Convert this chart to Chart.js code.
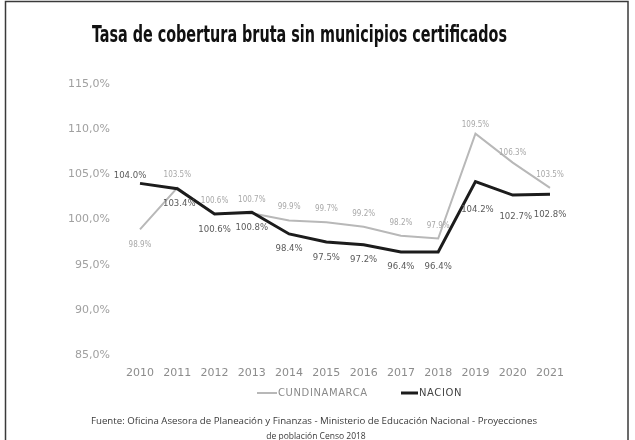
<!DOCTYPE html>
<html>
<head>
<meta charset="utf-8">
<script src="https://cdn.jsdelivr.net/npm/chart.js@4.4.1/dist/chart.umd.min.js"></script>
<style>
  html, body { margin: 0; padding: 0; background: #ffffff; }
  #wrap { width: 635px; height: 440px; position: relative; }
</style>
</head>
<body>
<div id="wrap"><canvas id="c" width="635" height="440"></canvas></div>
<script>
const TITLE = 'Tasa de cobertura bruta sin municipios certificados';
const FOOTER = ['Fuente: Oficina Asesora de Planeación y Finanzas - Ministerio de Educación Nacional - Proyecciones',
                'de población Censo 2018'];
const years = ['2010','2011','2012','2013','2014','2015','2016','2017','2018','2019','2020','2021'];
const cundinamarca = [98.9, 103.5, 100.6, 100.7, 99.9, 99.7, 99.2, 98.2, 97.9, 109.5, 106.3, 103.5];
const nacion = [104.0, 103.4, 100.6, 100.8, 98.4, 97.5, 97.2, 96.4, 96.4, 104.2, 102.7, 102.8];
const seriesNames = ['CUNDINAMARCA', 'NACION'];
const yMin = 85, yMax = 115, yStep = 5;

const GRAY = '#b8b8b8';
const BLACK = '#1c1c1c';

const fmtLabel = v => v.toFixed(1) + '%';
const fmtTick = v => v.toFixed(1).replace('.', ',') + '%';

const decor = {
  id: 'decor',
  afterDraw(chart) {
    const ctx = chart.ctx;
    // frame
    ctx.save();
    ctx.strokeStyle = '#3a3a3a';
    ctx.lineWidth = 1.5;
    ctx.strokeRect(5.5, 1.5, 622.5, 446);
    ctx.restore();

    // title
    ctx.save();
    ctx.font = 'bold 23px "Liberation Sans Narrow", "DejaVu Sans Condensed", sans-serif';
    ctx.fillStyle = '#111';
    ctx.textBaseline = 'alphabetic';
    const tw = ctx.measureText(TITLE).width;
    ctx.translate(92, 42);
    ctx.scale(415 / tw, 1);
    ctx.fillText(TITLE, 0, 0);
    ctx.restore();

    // data labels
    const metas = [chart.getDatasetMeta(0), chart.getDatasetMeta(1)];
    ctx.save();
    ctx.textAlign = 'center';
    ctx.textBaseline = 'middle';
    // Cundinamarca labels (above)
    ctx.font = '8px "Liberation Sans Narrow", "DejaVu Sans Condensed", sans-serif';
    ctx.fillStyle = '#a8a8a8';
    metas[0].data.forEach((pt, i) => {
      let dx = 0, dy = -13;
      if (i === 0) { dy = 15; }
      if (i === 9) { dy = -9; dx = 0; }
      if (i === 10) { dy = -10; }
      ctx.fillText(fmtLabel(cundinamarca[i]), pt.x + dx, pt.y + dy);
    });
    // Nacion labels (below)
    ctx.font = '9.5px "Liberation Sans Narrow", "DejaVu Sans Condensed", sans-serif';
    ctx.fillStyle = '#5a5a5a';
    metas[1].data.forEach((pt, i) => {
      let dx = 0, dy = 15;
      if (i === 0) { dx = -10; dy = -8; }
      if (i === 1) { dx = 2; }
      if (i === 9) { dx = 2; dy = 28; }
      if (i === 10) { dx = 3; dy = 21; }
      if (i === 11) { dy = 20; }
      ctx.fillText(fmtLabel(nacion[i]), pt.x + dx, pt.y + dy);
    });
    ctx.restore();

    // legend
    ctx.save();
    const ly = 393;
    ctx.lineCap = 'butt';
    ctx.strokeStyle = chart.data.datasets[0].borderColor;
    ctx.lineWidth = 2;
    ctx.beginPath(); ctx.moveTo(257, ly); ctx.lineTo(277, ly); ctx.stroke();
    ctx.strokeStyle = chart.data.datasets[1].borderColor;
    ctx.lineWidth = 3;
    ctx.beginPath(); ctx.moveTo(401, ly); ctx.lineTo(418, ly); ctx.stroke();
    ctx.font = '10px "DejaVu Sans", sans-serif';
    ctx.textBaseline = 'middle';
    ctx.textAlign = 'left';
    try { ctx.letterSpacing = '0.6px'; } catch (e) {}
    ctx.fillStyle = '#8a8a8a';
    ctx.fillText(chart.data.datasets[0].label, 278, ly + 0.5);
    ctx.fillStyle = '#444';
    ctx.fillText(chart.data.datasets[1].label, 419, ly + 0.5);
    ctx.restore();

    // footer
    ctx.save();
    ctx.font = '8.5px "Open Sans", sans-serif';
    ctx.fillStyle = '#3a3a3a';
    ctx.textBaseline = 'middle';
    ctx.textAlign = 'left';
    const fw = ctx.measureText(FOOTER[0]).width;
    ctx.translate(91, 422);
    ctx.scale(446 / fw, 1);
    ctx.fillText(FOOTER[0], 0, 0);
    ctx.restore();
    ctx.save();
    ctx.font = '8.5px "Open Sans", sans-serif';
    ctx.fillStyle = '#3a3a3a';
    ctx.textBaseline = 'middle';
    ctx.textAlign = 'center';
    ctx.fillText(FOOTER[1], 316, 437);
    ctx.restore();
  }
};

new Chart(document.getElementById('c'), {
  type: 'line',
  data: {
    labels: years,
    datasets: [
      { label: seriesNames[0], data: cundinamarca, borderColor: GRAY, backgroundColor: GRAY,
        borderWidth: 2, pointRadius: 0, tension: 0, order: 1 },
      { label: seriesNames[1], data: nacion, borderColor: BLACK, backgroundColor: BLACK,
        borderWidth: 3, pointRadius: 0, tension: 0, order: 0 }
    ]
  },
  options: {
    responsive: false,
    animation: false,
    devicePixelRatio: 1,
    layout: { padding: { top: 84, right: 85, bottom: 55, left: 0 } },
    plugins: {
      legend: { display: false },
      title: { display: false },
      tooltip: { enabled: false }
    },
    scales: {
      x: {
        offset: false,
        grid: { display: false, drawTicks: false },
        border: { display: false },
        ticks: { color: '#8c8c8c', font: { family: '"DejaVu Sans", sans-serif', size: 11 }, padding: 12, maxRotation: 0, autoSkip: false },
        afterFit: s => { s.height = 30; }
      },
      y: {
        min: yMin, max: yMax,
        grid: { display: false, drawTicks: false },
        border: { display: false },
        ticks: { stepSize: yStep, color: '#a0a0a0', font: { family: '"DejaVu Sans", sans-serif', size: 11 }, padding: 30, callback: v => fmtTick(v) },
        afterFit: s => { s.width = 140; }
      }
    }
  },
  plugins: [decor]
});
</script>
</body>
</html>
